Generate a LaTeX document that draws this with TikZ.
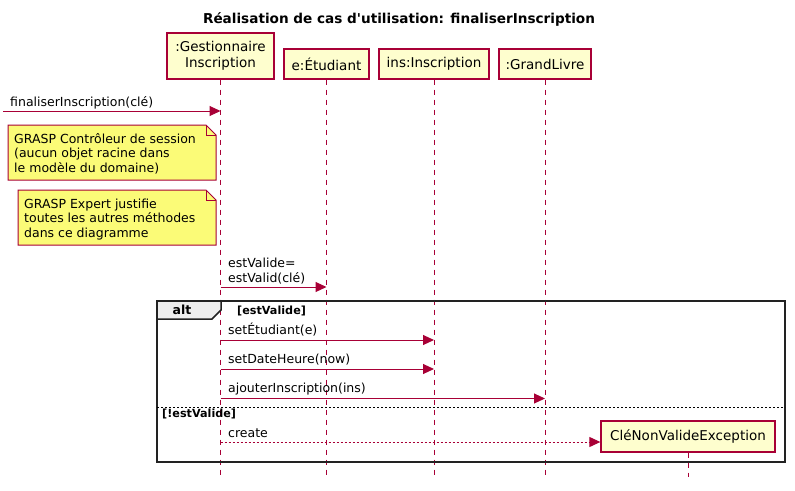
\documentclass[tikz,border=0pt]{standalone}
\usepackage{fontspec}
\setmainfont{DejaVu Sans}
\usetikzlibrary{arrows.meta}
\definecolor{uml}{HTML}{A80036}
\definecolor{partfill}{HTML}{FEFECE}
\definecolor{notefill}{HTML}{FBFB77}
\definecolor{tabfill}{HTML}{EEEEEE}
\definecolor{framecol}{HTML}{222222}
\begin{document}
\begin{tikzpicture}[x=1pt,y=-1pt,
  part/.style={draw=uml, fill=partfill, line width=1.3pt, inner sep=0pt,
    font=\fontsize{13.5}{16}\selectfont, align=center},
  life/.style={draw=uml, line width=1pt, dash pattern=on 5pt off 5pt},
  msg/.style={draw=uml, line width=1pt, -{Triangle[length=11pt,width=10pt]}},
  retmsg/.style={msg, dash pattern=on 2pt off 2pt},
  lbl/.style={anchor=base west, inner sep=0pt, font=\fontsize{12.5}{15}\selectfont},
  notebox/.style={draw=uml, fill=notefill, line width=1pt},
  guard/.style={anchor=base west, inner sep=0pt, font=\bfseries\fontsize{11.2}{13}\selectfont},
]
\useasboundingbox (0,0) rectangle (795,490);
\fill[white] (0,0) rectangle (795,490);

% title
\node[anchor=base, inner sep=0pt, font=\bfseries\fontsize{13.6}{16}\selectfont] (title) at (399,23)
  {Réalisation de cas d\textquotesingle utilisation: finaliserInscription};

% participants
\node[part, minimum width=107pt, minimum height=46pt] (p1) at (220.5,56) {:Gestionnaire\\Inscription};
\node[part, minimum width=85pt, minimum height=30pt] (p2) at (326.5,64) {e:Étudiant};
\node[part, minimum width=110pt, minimum height=30pt] (p3) at (434,64) {ins:Inscription};
\node[part, minimum width=92pt, minimum height=30pt] (p4) at (545,64) {:GrandLivre};

% lifelines
\coordinate (e1) at (220.5,477);
\coordinate (e2) at (326.5,477);
\coordinate (e3) at (434,477);
\coordinate (e4) at (545,477);
\draw[life] (p1.south) -- (e1);
\draw[life] (p2.south) -- (e2);
\draw[life] (p3.south) -- (e3);
\draw[life] (p4.south) -- (e4);

% found message
\coordinate (m0) at (3,111);
\draw[msg] (m0) -- (p1 |- m0);
\node[lbl] (l0) at (10,106) {finaliserInscription(clé)};

% note 1
\draw[notebox] (8,125) -- (206,125) -- (216,135) -- (216,180) -- (8,180) -- cycle;
\draw[notebox, fill=none] (206,125) -- (206,135) -- (216,135);
\node[lbl] (n1a) at (14,143) {GRASP Contrôleur de session};
\node[lbl] (n1b) at (14,157.5) {(aucun objet racine dans};
\node[lbl] (n1c) at (14,172) {le modèle du domaine)};

% note 2
\draw[notebox] (18,190) -- (206,190) -- (216,200) -- (216,245) -- (18,245) -- cycle;
\draw[notebox, fill=none] (206,190) -- (206,200) -- (216,200);
\node[lbl] (n2a) at (24,208) {GRASP Expert justifie};
\node[lbl] (n2b) at (24,222.5) {toutes les autres méthodes};
\node[lbl] (n2c) at (24,237) {dans ce diagramme};

% estValid
\coordinate (m1) at (220.5,287);
\draw[msg] (m1) -- (p2 |- m1);
\node[lbl] (l1a) at (228,267) {estValide=};
\node[lbl] (l1b) at (228,282) {estValid(clé)};

% alt frame
\draw[framecol, line width=2pt] (157,301) rectangle (785,462);
\draw[framecol, line width=1.5pt, fill=tabfill] (157,301) -- (221,301) -- (221,310) -- (212,319) -- (157,319) -- cycle;
\node[anchor=base, inner sep=0pt, font=\bfseries\fontsize{12.5}{15}\selectfont] (alt) at (182,314.5) {alt};
\node[guard] (g1) at (237,314) {[estValide]};
\draw[black, line width=0.8pt, dash pattern=on 2pt off 2pt] (157,407) -- (785,407);
\node[guard] (g2) at (162,417.5) {[!estValide]};

% messages in alt
\coordinate (m2) at (220.5,340);
\draw[msg] (m2) -- (p3 |- m2);
\node[lbl] (l2) at (228,334) {setÉtudiant(e)};

\coordinate (m3) at (220.5,369);
\draw[msg] (m3) -- (p3 |- m3);
\node[lbl] (l3) at (228,363) {setDateHeure(now)};

\coordinate (m4) at (220.5,398.5);
\draw[msg] (m4) -- (p4 |- m4);
\node[lbl] (l4) at (228,392.5) {ajouterInscription(ins)};

% created participant
\node[part, minimum width=174pt, minimum height=31pt] (p5) at (688,436.5) {CléNonValideException};
\coordinate (e5) at (688,477);
\draw[life] (p5.south) -- (e5);

\coordinate (m5) at (220.5,442);
\draw[retmsg] (m5) -- (p5.west |- m5);
\node[lbl] (l5) at (228,437) {create};
\end{tikzpicture}
\end{document}
